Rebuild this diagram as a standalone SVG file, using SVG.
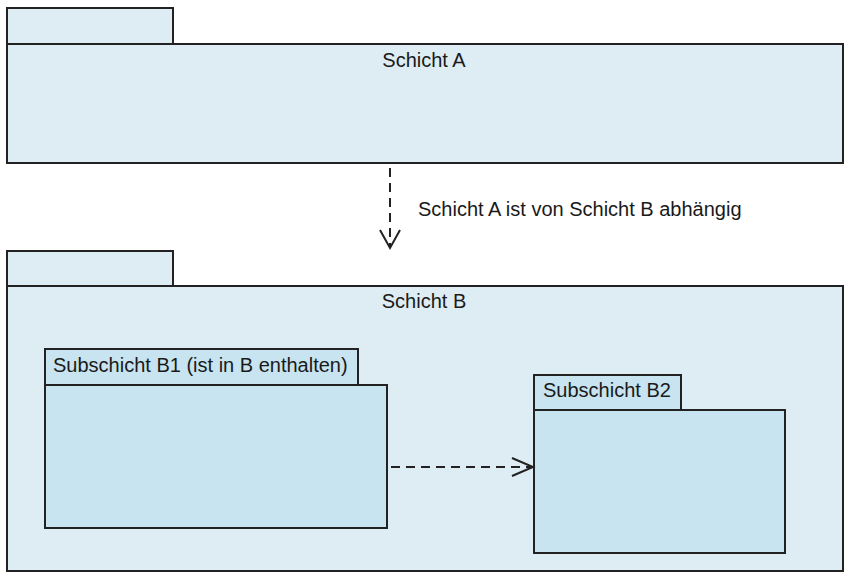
<svg xmlns="http://www.w3.org/2000/svg" width="853" height="584" viewBox="0 0 853 584">
<defs>
<style>
.outer{fill:#deedf4;stroke:#222;stroke-width:2}
.inner{fill:#c7e4f0;stroke:#222;stroke-width:2}
.t{font-family:"Liberation Sans",Arial,sans-serif;font-size:20px;fill:#1a1a1a}
.dep{fill:none;stroke:#222;stroke-width:2;stroke-dasharray:9,6}
.head{fill:none;stroke:#222;stroke-width:2}
</style>
</defs>
<rect width="853" height="584" fill="#fff"/>
<g id="schichtA">
<rect class="outer" x="7" y="8" width="166" height="36"/>
<rect class="outer" x="7" y="44" width="836" height="119"/>
<text class="t" x="424" y="67" text-anchor="middle">Schicht A</text>
</g>
<g id="schichtB">
<rect class="outer" x="7" y="251" width="166" height="35"/>
<rect class="outer" x="7" y="286" width="836" height="285"/>
<text class="t" x="424" y="308" text-anchor="middle">Schicht B</text>
</g>
<g id="subB1">
<rect class="inner" x="45" y="349" width="313" height="36"/>
<rect class="inner" x="45" y="385" width="342" height="143"/>
<text class="t" x="53" y="372">Subschicht B1 (ist in B enthalten)</text>
</g>
<g id="subB2">
<rect class="inner" x="534" y="375" width="147" height="35"/>
<rect class="inner" x="534" y="410" width="251" height="143"/>
<text class="t" x="543" y="397">Subschicht B2</text>
</g>
<g id="connectors">
<line class="dep" x1="390" y1="168" x2="390" y2="247"/>
<polyline class="head" points="380,230 390,248 400,230"/>
<text class="t" x="418" y="216">Schicht A ist von Schicht B abhängig</text>
<line class="dep" x1="391" y1="467" x2="532" y2="467"/>
<polyline class="head" points="512,458 533,467 512,476"/>
</g>
</svg>
